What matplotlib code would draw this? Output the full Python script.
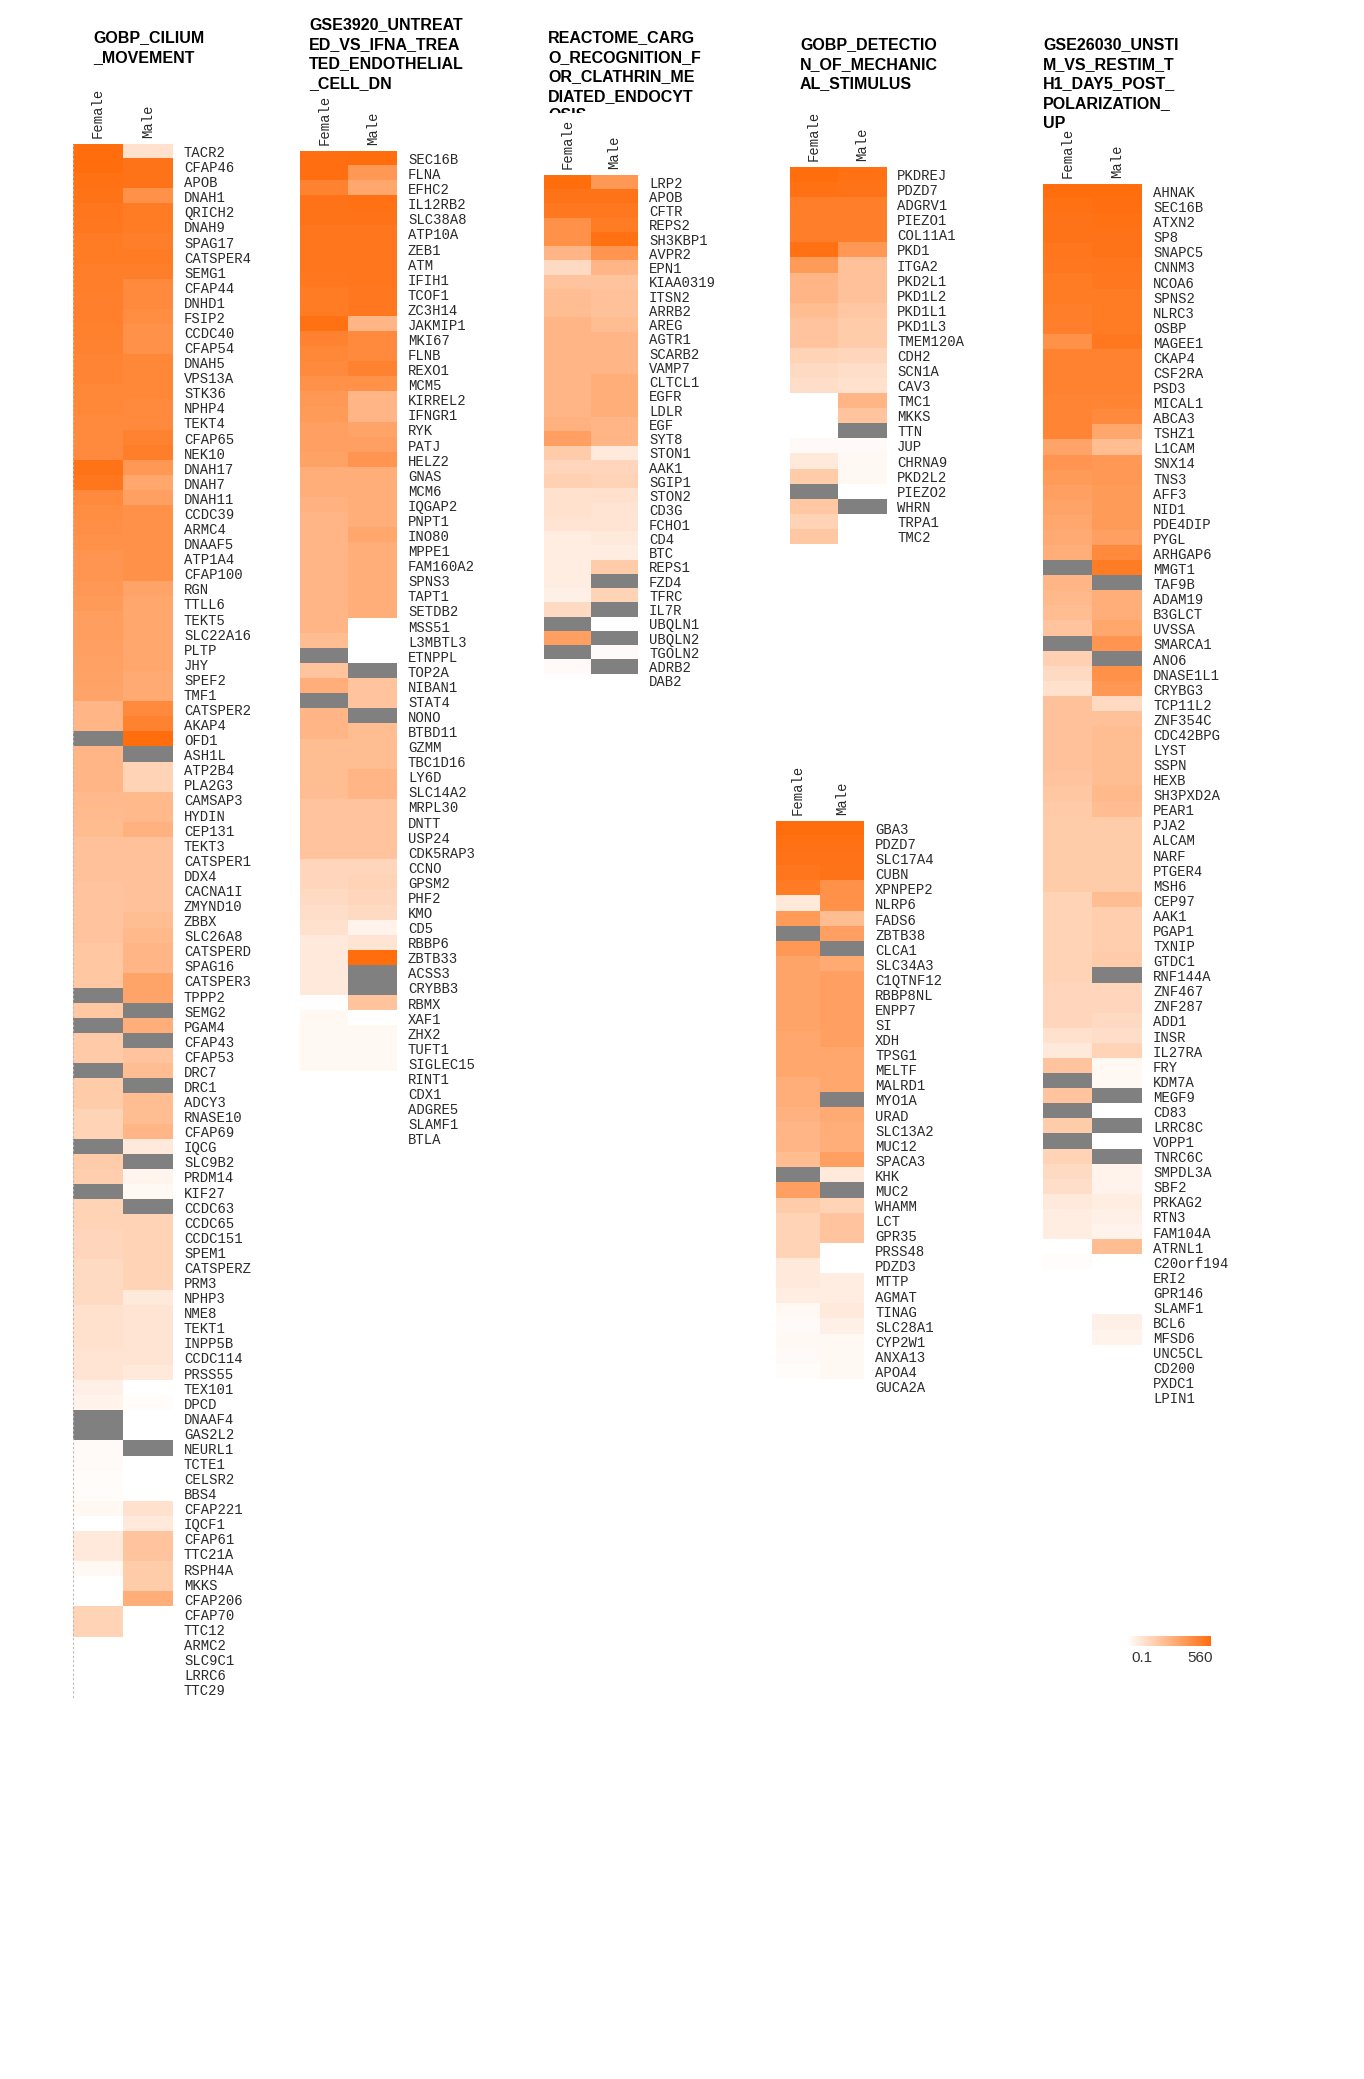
import matplotlib
matplotlib.use("Agg")
import matplotlib.pyplot as plt
import numpy as np
from matplotlib.colors import LinearSegmentedColormap, Normalize
from matplotlib.transforms import Bbox

NA = np.nan
samples = ["Female", "Male"]

# ---- GOBP_CILIUM_MOVEMENT
cilium_genes = ["TACR2", "CFAP46", "APOB", "DNAH1", "QRICH2", "DNAH9", "SPAG17", "CATSPER4", "SEMG1", "CFAP44",
                "DNHD1", "FSIP2", "CCDC40", "CFAP54", "DNAH5", "VPS13A", "STK36", "NPHP4", "TEKT4", "CFAP65",
                "NEK10", "DNAH17", "DNAH7", "DNAH11", "CCDC39", "ARMC4", "DNAAF5", "ATP1A4", "CFAP100", "RGN",
                "TTLL6", "TEKT5", "SLC22A16", "PLTP", "JHY", "SPEF2", "TMF1", "CATSPER2", "AKAP4", "OFD1",
                "ASH1L", "ATP2B4", "PLA2G3", "CAMSAP3", "HYDIN", "CEP131", "TEKT3", "CATSPER1", "DDX4", "CACNA1I",
                "ZMYND10", "ZBBX", "SLC26A8", "CATSPERD", "SPAG16", "CATSPER3", "TPPP2", "SEMG2", "PGAM4", "CFAP43",
                "CFAP53", "DRC7", "DRC1", "ADCY3", "RNASE10", "CFAP69", "IQCG", "SLC9B2", "PRDM14", "KIF27",
                "CCDC63", "CCDC65", "CCDC151", "SPEM1", "CATSPERZ", "PRM3", "NPHP3", "NME8", "TEKT1", "INPP5B",
                "CCDC114", "PRSS55", "TEX101", "DPCD", "DNAAF4", "GAS2L2", "NEURL1", "TCTE1", "CELSR2", "BBS4",
                "CFAP221", "IQCF1", "CFAP61", "TTC21A", "RSPH4A", "MKKS", "CFAP206", "CFAP70", "TTC12", "ARMC2",
                "SLC9C1", "LRRC6", "TTC29"]
cilium_female = [560, 560, 543, 532, 521, 515, 504, 504, 493, 493,
                 487, 487, 482, 476, 470, 465, 459, 459, 448, 448,
                 448, 532, 521, 448, 437, 426, 420, 403, 403, 392,
                 381, 370, 370, 364, 358, 353, 347, 280, 280, NA,
                 280, 280, 280, 269, 263, 258, 235, 235, 235, 224,
                 224, 224, 224, 213, 213, 213, NA, 213, NA, 202,
                 202, NA, 196, 196, 168, 168, NA, 196, 185, NA,
                 168, 168, 157, 157, 140, 140, 140, 112, 112, 112,
                 101, 101, 56, 45, NA, NA, 17, 17, 11, 11,
                 28, 0.1, 84, 84, 28, 0.1, 0.1, 168, 168, 0.1,
                 0.1, 0.1, 0.1]
cilium_male = [112, 532, 532, 420, 504, 504, 493, 504, 493, 448,
               448, 437, 420, 420, 459, 459, 459, 448, 448, 476,
               493, 392, 336, 364, 420, 420, 420, 420, 420, 347,
               336, 336, 336, 336, 336, 325, 325, 448, 476, 560,
               NA, 168, 168, 269, 269, 291, 235, 235, 235, 235,
               235, 252, 269, 280, 280, 347, 347, NA, 308, NA,
               224, 252, NA, 252, 252, 280, 84, NA, 39, 28,
               NA, 168, 168, 168, 168, 168, 84, 101, 101, 101,
               101, 84, 0.1, 11, 0.1, 0.1, NA, 0.1, 0.1, 0.1,
               112, 84, 224, 224, 196, 196, 308, 0.1, 0.1, 0.1,
               0.1, 0.1, 0.1]

# ---- GSE3920 endothelial
endo_genes = ["SEC16B", "FLNA", "EFHC2", "IL12RB2", "SLC38A8", "ATP10A", "ZEB1", "ATM", "IFIH1", "TCOF1",
              "ZC3H14", "JAKMIP1", "MKI67", "FLNB", "REXO1", "MCM5", "KIRREL2", "IFNGR1", "RYK", "PATJ",
              "HELZ2", "GNAS", "MCM6", "IQGAP2", "PNPT1", "INO80", "MPPE1", "FAM160A2", "SPNS3", "TAPT1",
              "SETDB2", "MSS51", "L3MBTL3", "ETNPPL", "TOP2A", "NIBAN1", "STAT4", "NONO", "BTBD11", "GZMM",
              "TBC1D16", "LY6D", "SLC14A2", "MRPL30", "DNTT", "USP24", "CDK5RAP3", "CCNO", "GPSM2", "PHF2",
              "KMO", "CD5", "RBBP6", "ZBTB33", "ACSS3", "CRYBB3", "RBMX", "XAF1", "ZHX2", "TUFT1",
              "SIGLEC15", "RINT1", "CDX1", "ADGRE5", "SLAMF1", "BTLA"]
endo_female = [549, 549, 476, 532, 532, 521, 521, 521, 515, 504,
               504, 543, 476, 459, 448, 420, 392, 381, 364, 364,
               353, 308, 308, 291, 280, 280, 280, 280, 280, 280,
               280, 280, 252, NA, 224, 308, NA, 280, 280, 252,
               252, 252, 252, 224, 224, 224, 224, 157, 157, 140,
               123, 112, 84, 84, 84, 84, 0.1, 28, 28, 28,
               28, 0.1, 0.1, 0.1, 0.1, 0.1]
endo_male = [560, 392, 336, 543, 532, 521, 521, 521, 521, 515,
             515, 280, 448, 448, 476, 420, 280, 280, 347, 364,
             403, 308, 308, 308, 308, 336, 308, 308, 308, 308,
             308, 0.1, 0.1, 0.1, NA, 224, 224, NA, 252, 252,
             252, 280, 280, 224, 224, 224, 224, 157, 168, 157,
             140, 45, 101, 560, NA, NA, 224, 0.1, 28, 28,
             28, 0.1, 0.1, 0.1, 0.1, 0.1]

# ---- REACTOME cargo recognition
cargo_genes = ["LRP2", "APOB", "CFTR", "REPS2", "SH3KBP1", "AVPR2", "EPN1", "KIAA0319", "ITSN2", "ARRB2",
               "AREG", "AGTR1", "SCARB2", "VAMP7", "CLTCL1", "EGFR", "LDLR", "EGF", "SYT8", "STON1",
               "AAK1", "SGIP1", "STON2", "CD3G", "FCHO1", "CD4", "BTC", "REPS1", "FZD4", "TFRC",
               "IL7R", "UBQLN1", "UBQLN2", "TGOLN2", "ADRB2", "DAB2"]
cargo_female = [560, 532, 515, 420, 420, 280, 140, 224, 252, 252,
                280, 280, 280, 280, 280, 280, 280, 291, 364, 196,
                157, 179, 112, 112, 101, 67, 67, 67, 67, 56,
                140, NA, 364, NA, 17, 0.1]
cargo_male = [392, 532, 515, 504, 543, 403, 280, 224, 235, 235,
              252, 280, 280, 280, 308, 308, 308, 280, 280, 84,
              157, 168, 112, 101, 101, 84, 67, 196, NA, 168,
              NA, 0.1, NA, 17, NA, 0.1]

# ---- GOBP detection of mechanical stimulus
mech_genes = ["PKDREJ", "PDZD7", "ADGRV1", "PIEZO1", "COL11A1", "PKD1", "ITGA2", "PKD2L1", "PKD1L2", "PKD1L1",
              "PKD1L3", "TMEM120A", "CDH2", "SCN1A", "CAV3", "TMC1", "MKKS", "TTN", "JUP", "CHRNA9",
              "PKD2L2", "PIEZO2", "WHRN", "TRPA1", "TMC2"]
mech_female = [560, 543, 493, 493, 493, 543, 381, 280, 280, 252,
               224, 224, 168, 140, 123, 0.1, 0.1, 0.1, 17, 84,
               196, NA, 213, 168, 213]
mech_male = [543, 532, 493, 493, 493, 392, 235, 235, 235, 213,
             196, 196, 157, 123, 112, 280, 224, NA, 17, 28,
             28, 0.1, NA, 0.1, 0.1]

# ---- untitled panel (intestinal genes)
gut_genes = ["GBA3", "PDZD7", "SLC17A4", "CUBN", "XPNPEP2", "NLRP6", "FADS6", "ZBTB38", "CLCA1", "SLC34A3",
             "C1QTNF12", "RBBP8NL", "ENPP7", "SI", "XDH", "TPSG1", "MELTF", "MALRD1", "MYO1A", "URAD",
             "SLC13A2", "MUC12", "SPACA3", "KHK", "MUC2", "WHAMM", "LCT", "GPR35", "PRSS48", "PDZD3",
             "MTTP", "AGMAT", "TINAG", "SLC28A1", "CYP2W1", "ANXA13", "APOA4", "GUCA2A"]
gut_female = [560, 543, 532, 521, 504, 84, 381, NA, 392, 347,
              347, 347, 347, 347, 336, 336, 336, 308, 308, 291,
              280, 280, 252, NA, 364, 196, 168, 168, 168, 84,
              84, 67, 28, 17, 28, 17, 11, 0.1]
gut_male = [560, 543, 532, 532, 420, 420, 252, 364, NA, 325,
            364, 364, 364, 364, 364, 336, 336, 336, NA, 325,
            308, 308, 364, 84, NA, 168, 224, 224, 0.1, 0.1,
            67, 67, 84, 56, 28, 28, 28, 0.1]

# ---- GSE26030 Th1
th1_genes = ["AHNAK", "SEC16B", "ATXN2", "SP8", "SNAPC5", "CNNM3", "NCOA6", "SPNS2", "NLRC3", "OSBP",
             "MAGEE1", "CKAP4", "CSF2RA", "PSD3", "MICAL1", "ABCA3", "TSHZ1", "L1CAM", "SNX14", "TNS3",
             "AFF3", "NID1", "PDE4DIP", "PYGL", "ARHGAP6", "MMGT1", "TAF9B", "ADAM19", "B3GLCT", "UVSSA",
             "SMARCA1", "ANO6", "DNASE1L1", "CRYBG3", "TCP11L2", "ZNF354C", "CDC42BPG", "LYST", "SSPN", "HEXB",
             "SH3PXD2A", "PEAR1", "PJA2", "ALCAM", "NARF", "PTGER4", "MSH6", "CEP97", "AAK1", "PGAP1",
             "TXNIP", "GTDC1", "RNF144A", "ZNF467", "ZNF287", "ADD1", "INSR", "IL27RA", "FRY", "KDM7A",
             "MEGF9", "CD83", "LRRC8C", "VOPP1", "TNRC6C", "SMPDL3A", "SBF2", "PRKAG2", "RTN3", "FAM104A",
             "ATRNL1", "C20orf194", "ERI2", "GPR146", "SLAMF1", "BCL6", "MFSD6", "UNC5CL", "CD200", "PXDC1",
             "LPIN1"]
th1_female = [560, 543, 532, 532, 521, 515, 504, 504, 493, 487,
              420, 476, 476, 476, 465, 465, 465, 347, 403, 381,
              364, 347, 336, 325, 308, NA, 280, 269, 252, 224,
              NA, 179, 140, 112, 235, 235, 235, 235, 235, 224,
              213, 202, 196, 196, 196, 196, 196, 168, 168, 168,
              168, 168, 168, 157, 157, 157, 112, 84, 224, NA,
              224, NA, 196, NA, 168, 140, 123, 84, 67, 67,
              0.1, 11, 0.1, 0.1, 0.1, 0.1, 0.1, 0.1, 0.1, 0.1,
              0.1]
th1_male = [560, 549, 543, 532, 532, 521, 515, 504, 504, 504,
            515, 476, 476, 476, 465, 448, 336, 252, 392, 392,
            381, 381, 381, 364, 448, 504, NA, 308, 308, 336,
            403, NA, 420, 392, 140, 235, 252, 252, 252, 252,
            269, 252, 196, 196, 196, 196, 196, 252, 185, 185,
            185, 196, NA, 157, 157, 140, 123, 168, 28, 28,
            NA, 0.1, NA, 0.1, NA, 45, 45, 67, 56, 45,
            252, 0.1, 0.1, 0.1, 0.1, 56, 45, 0.1, 0.1, 0.1,
            0.1]

scale_min, scale_max = 0.1, 560

W, H = 1364, 2079
fig = plt.figure(figsize=(W / 100, H / 100), dpi=100)

cmap = LinearSegmentedColormap.from_list("wo", ["#FFFFFF", "#FF6D0D"])
cmap.set_bad("#808080")
norm = Normalize(vmin=0, vmax=scale_max)

mono = "Liberation Mono"
sans = "Liberation Sans"


def heat(genes, female, male, x0, top, width, pitch, label_gap=11, dotted=False):
    n = len(genes)
    ax = fig.add_axes([x0 / W, 1 - (top + n * pitch) / H, width / W, n * pitch / H])
    mat = np.ma.masked_invalid(np.column_stack([female, male]))
    ax.imshow(mat, cmap=cmap, norm=norm, aspect="auto", interpolation="nearest")
    ax.yaxis.tick_right()
    ax.set_yticks(range(n))
    ax.set_yticklabels(genes, fontfamily=mono, fontsize=10, color="#2a2a2a")
    ax.xaxis.tick_top()
    ax.set_xticks(range(2))
    ax.set_xticklabels(samples, rotation=90, fontfamily=mono, fontsize=10, color="#2a2a2a")
    ax.tick_params(axis="y", length=0, pad=label_gap * 0.72)
    ax.tick_params(axis="x", length=0, pad=4)
    for s in ax.spines.values():
        s.set_visible(False)
    if dotted:
        ax.spines["left"].set_visible(True)
        ax.spines["left"].set_linestyle((0, (1, 3)))
        ax.spines["left"].set_color("#BBBBBB")
        ax.spines["left"].set_linewidth(0.8)
    return ax


def title(lines, x, y0, step=19.5, clip_last=None):
    for i, line in enumerate(lines):
        t = fig.text(x / W, 1 - (y0 + i * step) / H, line, fontfamily=sans, fontweight="bold",
                     fontsize=11.5, va="center", ha="left", color="black")
        if clip_last is not None and i == len(lines) - 1:
            t.set_clip_box(Bbox.from_extents(0, H - clip_last, W, H))
            t.set_clip_on(True)


heat(cilium_genes, cilium_female, cilium_male, 73, 144, 100, 15.08, dotted=True)
title(["GOBP_CILIUM", "_MOVEMENT"], 93, 38)

heat(endo_genes, endo_female, endo_male, 300, 151, 97, 15.08)
title(["GSE3920_UNTREAT", "ED_VS_IFNA_TREA", "TED_ENDOTHELIAL", "_CELL_DN"], 309, 25)

heat(cargo_genes, cargo_female, cargo_male, 544, 175, 94, 14.25)
title(["REACTOME_CARG", "O_RECOGNITION_F", "OR_CLATHRIN_ME", "DIATED_ENDOCYT", "OSIS"], 548, 38,
      clip_last=113)

heat(mech_genes, mech_female, mech_male, 790, 167, 96, 15.08)
title(["GOBP_DETECTIO", "N_OF_MECHANIC", "AL_STIMULUS"], 800, 45)

heat(gut_genes, gut_female, gut_male, 776, 821, 88, 15.08)

heat(th1_genes, th1_female, th1_male, 1043, 184, 99, 15.08)
title(["GSE26030_UNSTI", "M_VS_RESTIM_T", "H1_DAY5_POST_", "POLARIZATION_", "UP"], 1043, 45)

# colour key
cax = fig.add_axes([1127 / W, 1 - 1646 / H, 83 / W, 10 / H])
cax.imshow(np.linspace(0, scale_max, 256)[None, :], cmap=cmap, norm=norm, aspect="auto")
cax.axis("off")
cax.text(0.18, -0.5, f"{scale_min:g}", transform=cax.transAxes, ha="center", va="top",
         fontfamily=sans, fontsize=11, color="#333333")
cax.text(0.88, -0.5, f"{scale_max:g}", transform=cax.transAxes, ha="center", va="top",
         fontfamily=sans, fontsize=11, color="#333333")

fig.savefig("out.png", dpi=100, facecolor="white")
